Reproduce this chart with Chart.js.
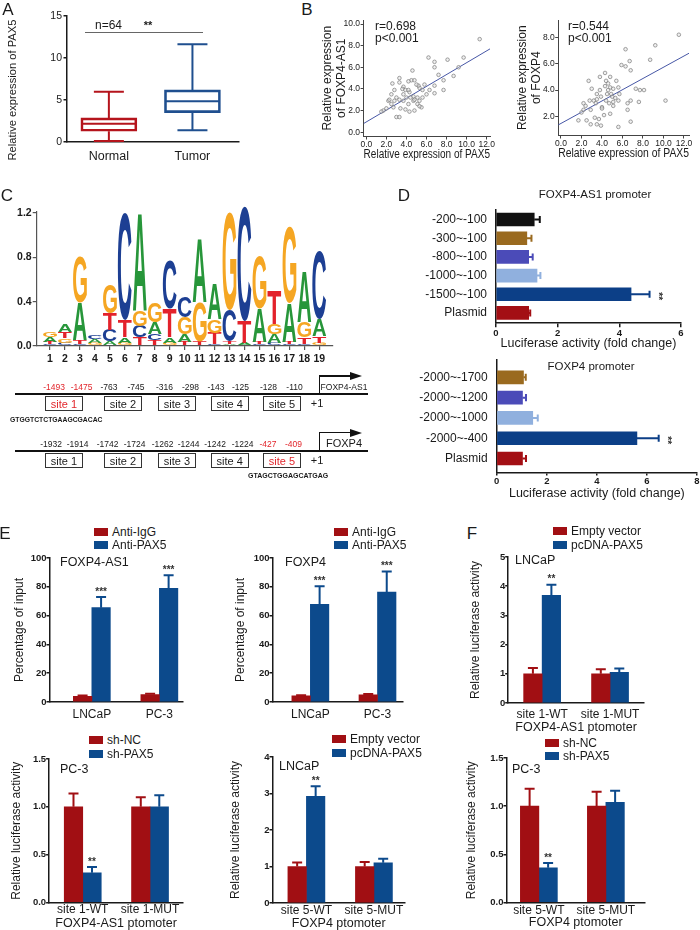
<!DOCTYPE html>
<html>
<head>
<meta charset="utf-8">
<script src="https://cdn.jsdelivr.net/npm/chart.js@4.4.1/dist/chart.umd.min.js"></script>
<style>
html, body { margin: 0; padding: 0; background: #fff; }
#fig { position: relative; width: 700px; height: 930px; overflow: hidden; font-family: "Liberation Sans", Arial, sans-serif; color: #1a1a1a; }
#fig div { position: absolute; white-space: nowrap; }
</style>
</head>
<body>
<div id="fig"></div>
<script>
// ---- A: PAX5 box plot
const boxGroups = ['Normal', 'Tumor'];
const boxMin = [0.12, 1.4];
const boxQ1 = [1.28, 3.5];
const boxMedian = [2.18, 4.86];
const boxQ3 = [2.87, 6.2];
const boxMax = [5.98, 11.64];
const boxTicks = [0, 5, 10, 15];

// ---- B: correlations
const pax5X1 = [11.3, 9.7, 9.2, 8.1, 6.8, 6.2, 6.8, 7.2, 7.7, 8.7, 7.7, 6.8, 6.3, 6.8, 5.8, 5.3, 4.6, 4.5, 4.8, 4.2, 3.7, 3.3, 3.3, 2.6, 2.8, 3.6, 3.9, 4.3, 4.7, 5.1, 5.3, 5.6, 5.5, 5.1, 4.7, 4.2, 4.3, 3.9, 3.4, 3.7, 3.3, 3.0, 2.5, 2.2, 2.3, 2.7, 3.0, 3.3, 4.8, 5.3, 6.0, 2.8, 2.5, 2.0, 1.7, 4.2, 5.2, 5.6, 3.7, 4.4, 4.8, 4.0, 5.0, 1.5];
const as1Y = [8.6, 6.9, 6.0, 6.7, 6.5, 6.9, 6.0, 5.3, 4.8, 5.2, 3.9, 4.3, 3.9, 3.6, 4.4, 4.1, 5.7, 4.8, 4.8, 4.7, 4.2, 4.6, 5.0, 4.5, 3.9, 4.0, 3.9, 3.7, 3.3, 3.2, 2.9, 3.2, 2.3, 2.6, 2.9, 2.6, 1.9, 2.1, 2.2, 2.9, 3.0, 3.2, 3.5, 2.9, 3.0, 2.3, 1.4, 1.4, 2.0, 2.4, 3.5, 2.9, 2.6, 2.2, 2.0, 3.9, 4.3, 3.9, 3.5, 3.2, 3.0, 3.2, 4.4, 1.9];
const fitAs1X = [-0.27, 12.33];
const fitAs1Y = [0.8, 7.7];
const pax5X2 = [11.5, 9.2, 6.3, 8.7, 6.7, 5.9, 6.8, 6.3, 4.3, 4.8, 5.4, 3.8, 2.7, 4.4, 4.6, 3.8, 4.3, 4.8, 5.1, 5.6, 7.3, 7.7, 8.1, 4.5, 5.0, 5.3, 5.6, 6.8, 7.6, 10.2, 3.9, 3.5, 3.2, 2.4, 2.2, 3.4, 2.9, 4.0, 4.7, 5.1, 4.2, 4.8, 3.3, 3.7, 1.7, 2.5, 2.9, 3.5, 5.6, 6.8, 6.5, 4.0, 2.2, 3.5, 2.8, 4.6, 5.7, 5.1, 3.9, 4.4, 4.9, 2.0, 6.5, 3.0];
const foxp4Y = [8.2, 7.4, 7.1, 6.3, 6.2, 5.9, 5.5, 5.8, 5.3, 5.0, 4.7, 5.0, 4.7, 4.7, 4.5, 4.0, 4.3, 4.2, 4.1, 4.2, 4.1, 4.0, 4.0, 3.7, 3.5, 3.4, 3.2, 3.2, 3.1, 3.2, 3.5, 3.3, 3.2, 2.8, 2.5, 3.0, 2.5, 2.7, 3.0, 2.8, 2.1, 2.2, 1.9, 1.8, 1.7, 1.7, 1.4, 1.4, 1.2, 1.6, 2.5, 2.6, 3.0, 3.7, 3.2, 4.0, 3.7, 3.1, 1.3, 3.2, 3.7, 2.3, 3.0, 4.1];
const fitFoxp4X = [-0.27, 12.5];
const fitFoxp4Y = [1.35, 6.8];
const corrTicksX = [0, 2, 4, 6, 8, 10, 12];
const as1TicksY = [0, 2, 4, 6, 8, 10];
const foxp4TicksY = [2, 4, 6, 8];

// ---- C: motif logo (bits per base)
const logoPos = [1, 2, 3, 4, 5, 6, 7, 8, 9, 10, 11, 12, 13, 14, 15, 16, 17, 18, 19];
const logoA = [0.04, 0.07, 0.34, 0.03, 0.04, 0.05, 0.88, 0.10, 0.05, 0.07, 0.57, 0.32, 0.02, 0.02, 0.30, 0.08, 0.35, 0.46, 0.15];
const logoC = [0.02, 0.03, 0.02, 0.04, 0.10, 0.96, 0.10, 0.06, 0.44, 0.19, 0.01, 0.02, 0.28, 1.03, 0.02, 0.03, 0.02, 0.02, 0.62];
const logoG = [0.05, 0.04, 0.42, 0.02, 0.26, 0.03, 0.14, 0.18, 0.03, 0.15, 0.36, 0.12, 0.88, 0.01, 0.47, 0.09, 0.69, 0.14, 0.03];
const logoT = [0.02, 0.06, 0.03, 0.01, 0.15, 0.15, 0.08, 0.05, 0.26, 0.04, 0.03, 0.10, 0.02, 0.20, 0.02, 0.30, 0.02, 0.06, 0.06];
const logoTicks = [0, 0.4, 0.8, 1.2];

// ---- D: promoter deletion luciferase
const as1Frags = ['-200~-100', '-300~-100', '-800~-100', '-1000~-100', '-1500~-100', 'Plasmid'];
const as1Luc = [1.24, 1.0, 1.06, 1.33, 4.38, 1.06];
const as1LucErr = [1.42, 1.15, 1.19, 1.44, 4.98, 1.11];
const as1LucStars = ['', '', '', '', '**', ''];
const foxFrags = ['-2000~-1700', '-2000~-1200', '-2000~-1000', '-2000~-400', 'Plasmid'];
const foxLuc = [1.07, 1.03, 1.44, 5.6, 1.03];
const foxLucErr = [1.16, 1.17, 1.64, 6.47, 1.17];
const foxLucStars = ['', '', '', '**', ''];

// ---- E top: ChIP
const chipCells = ['LNCaP', 'PC-3'];
const chipAs1IgG = [4.0, 5.2];
const chipAs1IgGErr = [4.5, 5.7];
const chipAs1Pax5 = [65.5, 79];
const chipAs1Pax5Err = [73, 88];
const chipFoxIgG = [4.2, 5.0];
const chipFoxIgGErr = [4.7, 5.5];
const chipFoxPax5 = [67.8, 76.4];
const chipFoxPax5Err = [80.3, 90.7];
const chipStars = ['***', '***'];

// ---- E bottom / F: reporter assays
const site1Labels = ['site 1-WT', 'site 1-MUT'];
const site5Labels = ['site 5-WT', 'site 5-MUT'];
const eShNC = [1.0, 1.0], eShNCErr = [1.14, 1.1];
const eShPax5 = [0.31, 1.0], eShPax5Err = [0.37, 1.12];
const eEmpty = [1.0, 1.0], eEmptyErr = [1.11, 1.12];
const eOePax5 = [2.92, 1.1], eOePax5Err = [3.2, 1.21];
const fEmpty = [1.0, 1.0], fEmptyErr = [1.2, 1.15];
const fOePax5 = [3.69, 1.05], fOePax5Err = [4.05, 1.18];
const fShNC = [1.0, 1.0], fShNCErr = [1.18, 1.15];
const fShPax5 = [0.36, 1.04], fShPax5Err = [0.41, 1.16];
const sigStars = ['**', ''];

const RED = '#a10f13', BLUE = '#0c4a8c';
const letterColors = { A: '#27963a', C: '#1d3f93', G: '#f5a623', T: '#e3222b' };

Chart.defaults.font.family = '"Liberation Sans", Arial, sans-serif';
Chart.defaults.color = '#1a1a1a';
Chart.defaults.plugins.legend.display = false;
Chart.defaults.plugins.tooltip.enabled = false;
Chart.defaults.animation = false;

const fig = document.getElementById('fig');

function txt(s, x, y, o = {}) {
  const d = document.createElement('div');
  d.textContent = s;
  const ax = o.align === 'left' ? '0' : '-50%';
  d.style.left = x + 'px';
  d.style.top = y + 'px';
  d.style.transform = `translate(${ax},-50%)` + (o.rot ? ` rotate(${o.rot}deg)` : '');
  d.style.fontSize = (o.size || 12) + 'px';
  d.style.lineHeight = '1';
  if (o.bold) d.style.fontWeight = 'bold';
  if (o.color) d.style.color = o.color;
  fig.appendChild(d);
  return d;
}

function block(x, y, w, h, css) {
  const d = document.createElement('div');
  d.style.cssText = `left:${x}px;top:${y}px;width:${w}px;height:${h}px;box-sizing:border-box;` + (css || '');
  fig.appendChild(d);
  return d;
}

function legendItem(x, y, color, label) {
  block(x, y - 4, 14, 8, `background:${color};`);
  txt(label, x + 18, y, { align: 'left', size: 12 });
}

// error bars and stars, drawn from each dataset's err / stars arrays
const errBars = {
  id: 'errBars',
  afterDatasetsDraw(chart) {
    const { ctx } = chart;
    const horiz = chart.options.indexAxis === 'y';
    const vs = horiz ? chart.scales.x : chart.scales.y;
    chart.data.datasets.forEach((ds, i) => {
      if (!ds.err) return;
      chart.getDatasetMeta(i).data.forEach((bar, j) => {
        const col = Array.isArray(ds.backgroundColor) ? ds.backgroundColor[j] : ds.backgroundColor;
        const end = vs.getPixelForValue(ds.err[j]);
        ctx.save();
        ctx.strokeStyle = col;
        ctx.lineWidth = 2;
        ctx.beginPath();
        if (horiz) {
          const c = bar.height * 0.27;
          ctx.moveTo(bar.x, bar.y); ctx.lineTo(end, bar.y);
          ctx.moveTo(end, bar.y - c); ctx.lineTo(end, bar.y + c);
        } else {
          const c = bar.width * 0.27;
          ctx.moveTo(bar.x, bar.y); ctx.lineTo(bar.x, end);
          ctx.moveTo(bar.x - c, end); ctx.lineTo(bar.x + c, end);
        }
        ctx.stroke();
        const s = ds.stars && ds.stars[j];
        if (s) {
          ctx.fillStyle = '#333';
          ctx.font = 'bold 10px "Liberation Sans", Arial, sans-serif';
          ctx.textAlign = 'center';
          ctx.textBaseline = 'middle';
          if (horiz) {
            ctx.translate(end + 8, bar.y + 2);
            ctx.rotate(Math.PI / 2);
            ctx.fillText(s, 0, 0);
          } else {
            ctx.fillText(s, bar.x, end - 5);
          }
        }
        ctx.restore();
      });
    });
  }
};

// whiskers + median for the floating-bar box plot
const boxWhiskers = {
  id: 'boxWhiskers',
  afterDatasetsDraw(chart) {
    const { ctx } = chart;
    const ys = chart.scales.y;
    const ds = chart.data.datasets[0];
    chart.getDatasetMeta(0).data.forEach((bar, j) => {
      const x = bar.x, half = bar.width / 2, cap = 15;
      const pMin = ys.getPixelForValue(ds.whisk.min[j]);
      const pMax = ys.getPixelForValue(ds.whisk.max[j]);
      const pMed = ys.getPixelForValue(ds.whisk.med[j]);
      const pQ1 = ys.getPixelForValue(boxQ1[j]);
      const pQ3 = ys.getPixelForValue(boxQ3[j]);
      ctx.save();
      ctx.strokeStyle = ds.borderColor[j];
      ctx.lineWidth = 2;
      ctx.beginPath();
      ctx.moveTo(x, pQ3); ctx.lineTo(x, pMax);
      ctx.moveTo(x - cap, pMax); ctx.lineTo(x + cap, pMax);
      ctx.moveTo(x, pQ1); ctx.lineTo(x, pMin);
      ctx.moveTo(x - cap, pMin); ctx.lineTo(x + cap, pMin);
      ctx.moveTo(x - half + 1, pMed); ctx.lineTo(x + half - 1, pMed);
      ctx.stroke();
      ctx.restore();
    });
  }
};

// stretch a letter into every stacked bar of the logo
const logoLetters = {
  id: 'logoLetters',
  afterDatasetsDraw(chart) {
    const { ctx } = chart;
    chart.data.datasets.forEach((ds, i) => {
      chart.getDatasetMeta(i).data.forEach((bar, j) => {
        const ch = ds.letters[j];
        const h = bar.base - bar.y, w = bar.width;
        if (h < 0.3) return;
        ctx.save();
        ctx.font = 'bold 100px "Liberation Sans", Arial, sans-serif';
        ctx.textAlign = 'left';
        ctx.textBaseline = 'alphabetic';
        const m = ctx.measureText(ch);
        const gw = m.actualBoundingBoxLeft + m.actualBoundingBoxRight;
        const gh = m.actualBoundingBoxAscent + m.actualBoundingBoxDescent;
        ctx.translate(bar.x - w / 2, bar.y);
        ctx.scale(w / gw, h / gh);
        ctx.fillStyle = letterColors[ch];
        ctx.fillText(ch, m.actualBoundingBoxLeft, m.actualBoundingBoxAscent);
        ctx.restore();
      });
    });
  }
};

function ax(o) {
  const col = o.color || '#1a1a1a';
  return {
    type: 'linear', min: o.min, max: o.max, reverse: !!o.reverse, offset: false,
    stacked: !!o.stacked,
    border: { display: true, color: col, width: o.bw || 1.5 },
    grid: { display: true, offset: false, drawOnChartArea: false, drawTicks: (o.tl || 0) > 0, tickLength: o.tl || 0, color: col, lineWidth: o.bw || 1.5 },
    afterBuildTicks: s => { s.ticks = o.ticks.map(v => ({ value: v })); },
    ticks: { autoSkip: false, maxRotation: 0, padding: o.pad || 0, color: '#1a1a1a',
      font: { size: o.size || 10, weight: o.bold ? 'bold' : 'normal' }, callback: o.fmt || (v => v) },
    title: o.title ? { display: true, text: o.title, color: '#1a1a1a',
      font: { size: o.tsize || 12, lineHeight: o.tlh || 1.2 }, padding: { top: o.tpad || 0, bottom: 0 } } : { display: false }
  };
}

// place a chart so that its plot area lands on [l, t, r, b] of the page
function makeChart(area, yW, xH, config, pad = [8, 8, 0, 0]) {
  const [l, t, r, b] = area;
  const cl = l - yW - pad[3], ct = t - pad[0];
  const w = Math.round(r + pad[1] - cl), h = Math.round(b + xH + pad[2] - ct);
  const c = document.createElement('canvas');
  c.width = w; c.height = h;
  c.style.cssText = `position:absolute;left:${cl}px;top:${ct}px;width:${w}px;height:${h}px;`;
  fig.appendChild(c);
  config.options.responsive = false;
  config.options.layout = { padding: { top: pad[0], right: pad[1], bottom: pad[2], left: pad[3] } };
  config.options.scales.x.afterFit = s => { s.height = xH; };
  config.options.scales.y.afterFit = s => { s.width = yW; };
  return new Chart(c, config);
}

function pairBars(area, yW, xH, o) {
  const mk = (vals, err, stars, color) => ({
    data: vals.map((v, i) => ({ x: i, y: v })), err, stars,
    backgroundColor: color, borderWidth: 0, barThickness: 18.5
  });
  return makeChart(area, yW, xH, {
    type: 'bar',
    data: { datasets: [mk(o.a, o.aErr, null, RED), mk(o.b, o.bErr, o.stars, BLUE)] },
    options: {
      scales: {
        x: ax({ min: o.xMin, max: o.xMax, ticks: [0, 1], tl: 0, pad: o.xPad, size: 12, fmt: v => o.labels[v],
          title: o.xTitle, tsize: 12.5 }),
        y: ax({ min: 0, max: o.yMax, ticks: o.yTicks, tl: 3, pad: 0, size: 9.5, bold: true, fmt: o.yFmt,
          title: o.yTitle, tsize: 12 })
      }
    },
    plugins: [errBars]
  });
}

// ---------- A
makeChart([66, 16, 238, 141.7], 60.5, 28, {
  type: 'bar',
  data: { datasets: [{
    data: boxGroups.map((g, i) => ({ x: i, y: [boxQ1[i], boxQ3[i]] })),
    backgroundColor: 'rgba(0,0,0,0)', borderColor: ['#b5141c', '#1f4f8f'], borderWidth: 2,
    borderSkipped: false, barThickness: 56, whisk: { min: boxMin, med: boxMedian, max: boxMax }
  }] },
  options: { scales: {
    x: ax({ min: -0.507, max: 1.557, ticks: [0, 1], tl: 0, pad: 7.5, size: 12.5, fmt: v => boxGroups[v] }),
    y: ax({ min: 0, max: 15, ticks: boxTicks, tl: 3, pad: 1.5, size: 10.5 })
  } },
  plugins: [boxWhiskers]
});
txt('Relative expression of PAX5', 13, 90, { size: 11.2, rot: -90 });

// ---------- B
function corrChart(area, yW, xs, ys, fx, fy, yMin, yMax, xMax, yTicks, yTitle) {
  return makeChart(area, yW, 25.5, {
    type: 'scatter',
    data: { datasets: [
      { data: xs.map((x, i) => ({ x, y: ys[i] })), pointRadius: 1.8, pointBorderWidth: 0.7,
        pointBorderColor: '#7a7a7a', pointBackgroundColor: 'rgba(225,225,225,0.5)' },
      { type: 'line', data: fx.map((x, i) => ({ x, y: fy[i] })), borderColor: '#4757a6', borderWidth: 1, pointRadius: 0 }
    ] },
    options: { scales: {
      x: ax({ min: -0.27, max: xMax, ticks: corrTicksX, tl: 3, pad: 0, size: 8.5, bw: 1, color: '#444',
        fmt: v => v.toFixed(1), title: 'Relative expression of PAX5', tsize: 12 }),
      y: ax({ min: yMin, max: yMax, ticks: yTicks, tl: 3, pad: 0.5, size: 8.5, bw: 1, color: '#444',
        fmt: v => v.toFixed(1), title: yTitle, tsize: 12, tlh: 1.15 })
    } }
  });
}
corrChart([364, 20, 490, 136], 42.6, pax5X1, as1Y, fitAs1X, fitAs1Y, -0.4, 10.37, 12.33, as1TicksY,
  ['Relative expression', 'of FOXP4-AS1']);
corrChart([558, 20, 688.3, 135], 42.2, pax5X2, foxp4Y, fitFoxp4X, fitFoxp4Y, 0.55, 9.32, 12.49, foxp4TicksY,
  ['Relative expression', 'of FOXP4']);

// ---------- C
const logoBases = ['A', 'C', 'G', 'T'];
const logoByBase = { A: logoA, C: logoC, G: logoG, T: logoT };
const ranked = logoPos.map((p, j) => logoBases.map(b => [b, logoByBase[b][j]]).sort((u, v) => u[1] - v[1]));
makeChart([36.7, 211.7, 333, 345.7], 26.7, 20, {
  type: 'bar',
  data: { datasets: [0, 1, 2, 3].map(r => ({
    data: logoPos.map((p, j) => ({ x: p, y: ranked[j][r][1] })),
    letters: logoPos.map((p, j) => ranked[j][r][0]),
    backgroundColor: 'rgba(0,0,0,0)', borderWidth: 0, barThickness: 13.8
  })) },
  options: { scales: {
    x: ax({ min: 0.111, max: 19.916, ticks: logoPos, tl: 4, pad: 2.4, size: 10.5, bold: true, stacked: true, color: '#555', bw: 1.2 }),
    y: ax({ min: 0, max: 1.209, ticks: logoTicks, tl: 4, pad: 1, size: 10.5, bold: true, stacked: true, color: '#555', bw: 1.2,
      fmt: v => v.toFixed(1) })
  } },
  plugins: [logoLetters]
}, [10, 8, 0, 0]);

// ---------- D
function fragChart(area, yW, xH, frags, vals, err, stars, colors, yMin, yMax, xMax, xTicks, xTl) {
  return makeChart(area, yW, xH, {
    type: 'bar',
    data: { datasets: [{
      data: vals.map((v, i) => ({ x: v, y: i })), err, stars,
      backgroundColor: colors, borderWidth: 0, barThickness: 13
    }] },
    options: { indexAxis: 'y', scales: {
      x: ax({ min: 0, max: xMax, ticks: xTicks, tl: xTl, pad: 0.3, size: 9.5, bold: true,
        title: 'Luciferase activity (fold change)', tsize: 12.5 }),
      y: ax({ min: yMin, max: yMax, reverse: true, ticks: frags.map((f, i) => i), tl: 0, pad: 9, size: 12,
        fmt: v => frags[v] })
    } },
    plugins: [errBars]
  });
}
fragChart([496, 201.7, 680.7, 322.7], 96, 27.8, as1Frags, as1Luc, as1LucErr, as1LucStars,
  ['#111111', '#9a6a1f', '#4b4bb8', '#90b0de', '#0c3f87', '#a30f14'], -0.5, 5.55, 6, [0, 2, 4, 6], 4);
fragChart([496.7, 351.7, 696.7, 471.7], 96.7, 28.5, foxFrags, foxLuc, foxLucErr, foxLucStars,
  ['#9a6a1f', '#4b4bb8', '#90b0de', '#0c3f87', '#a30f14'], -0.845, 4.69, 8, [0, 2, 4, 6, 8], 3);

// ---------- E
pairBars([49.3, 557.7, 182.7, 701.7], 37.5, 22, {
  a: chipAs1IgG, aErr: chipAs1IgGErr, b: chipAs1Pax5, bErr: chipAs1Pax5Err, stars: chipStars,
  labels: chipCells, xMin: -0.627, xMax: 1.35, xPad: 5.8, yMax: 100, yTicks: [0, 20, 40, 60, 80, 100],
  yTitle: 'Percentage of input'
});
pairBars([272.7, 557.7, 403, 701.7], 39.5, 22, {
  a: chipFoxIgG, aErr: chipFoxIgGErr, b: chipFoxPax5, bErr: chipFoxPax5Err, stars: chipStars,
  labels: chipCells, xMin: -0.564, xMax: 1.38, xPad: 5.8, yMax: 100, yTicks: [0, 20, 40, 60, 80, 100],
  yTitle: 'Percentage of input'
});
pairBars([49.3, 759, 182.7, 902.3], 40.1, 28.5, {
  a: eShNC, aErr: eShNCErr, b: eShPax5, bErr: eShPax5Err, stars: sigStars,
  labels: site1Labels, xMin: -0.5, xMax: 1.49, xPad: 0.2, yMax: 1.5, yTicks: [0, 0.5, 1, 1.5],
  yFmt: v => v.toFixed(1), yTitle: 'Relative luciferase activity', xTitle: 'FOXP4-AS1 ptomoter'
});
pairBars([272.7, 756.7, 405, 902.3], 44.5, 28, {
  a: eEmpty, aErr: eEmptyErr, b: eOePax5, bErr: eOePax5Err, stars: sigStars,
  labels: site5Labels, xMin: -0.502, xMax: 1.46, xPad: 0.2, yMax: 4, yTicks: [0, 1, 2, 3, 4],
  yTitle: 'Relative luciferase activity', xTitle: 'FOXP4 ptomoter'
});

// ---------- F
pairBars([507.7, 556.7, 643.3, 702.7], 40.2, 32.1, {
  a: fEmpty, aErr: fEmptyErr, b: fOePax5, bErr: fOePax5Err, stars: sigStars,
  labels: site1Labels, xMin: -0.5, xMax: 1.5, xPad: 4.8, yMax: 5, yTicks: [0, 1, 2, 3, 4, 5],
  yTitle: 'Relative luciferase activity', xTitle: 'FOXP4-AS1 ptomoter'
});
pairBars([506.7, 757.7, 645, 901.7], 42.5, 27.5, {
  a: fShNC, aErr: fShNCErr, b: fShPax5, bErr: fShPax5Err, stars: sigStars,
  labels: site5Labels, xMin: -0.483, xMax: 1.584, xPad: 0.8, yMax: 1.5, yTicks: [0, 0.5, 1, 1.5],
  yFmt: v => v.toFixed(1), yTitle: 'Relative luciferase activity', xTitle: 'FOXP4 ptomoter'
});

// ---------- text overlays
txt('A', 8, 9, { size: 17 });
txt('B', 307, 9, { size: 17 });
txt('C', 7, 195, { size: 17 });
txt('D', 404, 195, { size: 17 });
txt('E', 5, 533, { size: 17 });
txt('F', 472, 533, { size: 17 });

txt('n=64', 108.5, 25, { size: 12 });
txt('**', 148, 25, { size: 11, bold: true });
block(85, 31.5, 118, 1, 'background:#666;');

txt('r=0.698', 375, 26, { align: 'left', size: 12 });
txt('p<0.001', 375, 37.5, { align: 'left', size: 12 });
txt('r=0.544', 568, 26, { align: 'left', size: 12 });
txt('p<0.001', 568, 37.5, { align: 'left', size: 12 });

txt('FOXP4-AS1 promoter', 595, 195, { size: 11.5 });
txt('FOXP4 promoter', 591, 367, { size: 11.5 });

legendItem(94, 531.7, RED, 'Anti-IgG');
legendItem(94, 545, BLUE, 'Anti-PAX5');
legendItem(334, 531.7, RED, 'Anti-IgG');
legendItem(334, 545, BLUE, 'Anti-PAX5');
legendItem(89, 740, RED, 'sh-NC');
legendItem(89, 754, BLUE, 'sh-PAX5');
legendItem(332, 739, RED, 'Empty vector');
legendItem(332, 753, BLUE, 'pcDNA-PAX5');
legendItem(553, 530.7, RED, 'Empty vector');
legendItem(553, 545, BLUE, 'pcDNA-PAX5');
legendItem(545, 742.7, RED, 'sh-NC');
legendItem(545, 756, BLUE, 'sh-PAX5');

txt('FOXP4-AS1', 60, 562, { align: 'left', size: 12.5 });
txt('FOXP4', 285, 562, { align: 'left', size: 12.5 });
txt('PC-3', 60, 769, { align: 'left', size: 12.5 });
txt('LNCaP', 279, 766, { align: 'left', size: 12.5 });
txt('LNCaP', 515, 560, { align: 'left', size: 12.5 });
txt('PC-3', 512, 769, { align: 'left', size: 12.5 });

// ---------- promoter diagrams (panel C, bottom)
const PRED = '#e2262c';
const siteBoxX = [45, 104, 158, 210.7, 263];
function promoter(lineY, numY, boxY, nums, numX, redSite, gene, geneSize, arrowY) {
  block(15, lineY - 1, 353.3, 2, 'background:#111;');
  nums.forEach((n, i) => txt(n, numX[i], numY, { size: 8.5, color: Math.floor(i / 2) === redSite ? PRED : '#1a1a1a' }));
  siteBoxX.forEach((x, i) => {
    block(x, boxY, 38, 14.5, 'border:1.3px solid #333;background:#fff;');
    txt('site ' + (i + 1), x + 19, boxY + 7.4, { size: 11, color: i === redSite ? PRED : '#1a1a1a' });
  });
  txt('+1', 317, boxY + 6.5, { size: 11 });
  block(318.6, arrowY, 1.4, lineY - arrowY, 'background:#111;');
  block(318.6, arrowY - 0.7, 33, 1.4, 'background:#111;');
  block(350, arrowY - 4, 0, 0, 'border-left:12px solid #111;border-top:4px solid transparent;border-bottom:4px solid transparent;');
  txt(gene, 344, (arrowY + lineY) / 2 + 1.5, { size: geneSize });
}
promoter(394.3, 386.7, 396.3, ['-1493', '-1475', '-763', '-745', '-316', '-298', '-143', '-125', '-128', '-110'],
  [54, 81.5, 109, 136, 164.5, 190.5, 216, 240.5, 268.5, 294.5], 0, 'FOXP4-AS1', 8.5, 376);
promoter(451, 444, 453.3, ['-1932', '-1914', '-1742', '-1724', '-1262', '-1244', '-1242', '-1224', '-427', '-409'],
  [51, 77.5, 107.5, 134.5, 162.5, 188.5, 215, 242.5, 268, 293.5], 4, 'FOXP4', 11, 432.7);
txt('GTGGTCTCTGAAGCGACAC', 10, 419.5, { align: 'left', size: 6.8, bold: true });
txt('GTAGCTGGAGCATGAG', 248, 475, { align: 'left', size: 7, bold: true });
</script>
</body>
</html>
